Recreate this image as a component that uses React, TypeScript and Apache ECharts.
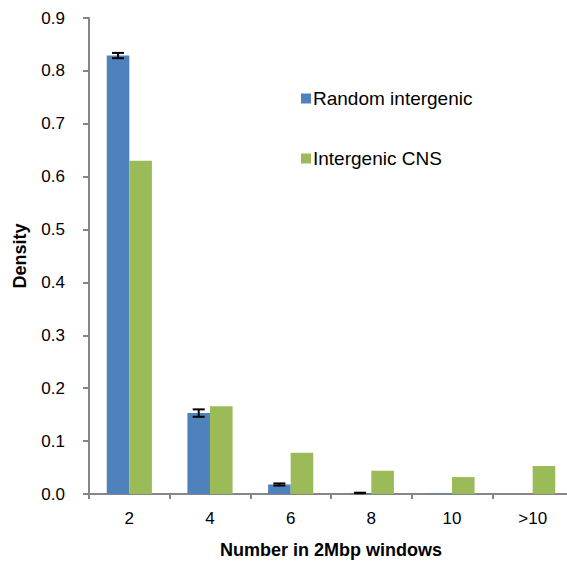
import React, { useEffect, useRef } from "react";
import * as echarts from "echarts";

const categories = ["2", "4", "6", "8", "10", ">10"];
const randomIntergenic = [0.829, 0.153, 0.018, 0.002, 0.001, 0];
const randomErrors = [0.005, 0.007, 0.002, 0.0005, 0, 0];
const intergenicCNS = [0.63, 0.166, 0.078, 0.044, 0.032, 0.053];
const yTicks = [0, 0.1, 0.2, 0.3, 0.4, 0.5, 0.6, 0.7, 0.8, 0.9];

const FONT = "'Liberation Sans', Arial, sans-serif";

export default function App() {
  const ref = useRef<HTMLDivElement>(null);
  useEffect(() => {
    if (!ref.current) return;
    const chart = echarts.init(ref.current, null, { renderer: "svg" });
    const errData = categories.map((_, i) => [i, randomIntergenic[i], randomErrors[i]]);
    chart.setOption({
      animation: false,
      textStyle: { fontFamily: FONT },
      grid: {
        left: 89,
        width: 484,
        top: 18,
        bottom: 72,
        containLabel: false,
        outerBoundsMode: "none",
      },
      legend: {
        orient: "vertical",
        left: 301,
        top: 89,
        padding: 0,
        itemWidth: 10,
        itemHeight: 10,
        itemGap: 41,
        icon: "rect",
        textStyle: { fontFamily: FONT, fontSize: 19, color: "#000", padding: [0, 0, 0, -3] },
        data: ["Random intergenic", "Intergenic CNS"],
      },
      xAxis: {
        type: "category",
        data: categories,
        name: "Number in 2Mbp windows",
        nameLocation: "middle",
        nameGap: 47,
        nameTextStyle: { fontFamily: FONT, fontSize: 18, fontWeight: "bold", color: "#000" },
        axisLine: { lineStyle: { color: "#868686", width: 2 } },
        axisTick: { show: true, length: 5, lineStyle: { color: "#868686", width: 2 } },
        axisLabel: { color: "#000", fontSize: 17, margin: 16, fontFamily: FONT },
      },
      yAxis: {
        type: "value",
        min: 0,
        max: 0.9,
        interval: 0.1,
        name: "Density",
        nameLocation: "middle",
        nameGap: 60,
        nameTextStyle: { fontFamily: FONT, fontSize: 18, fontWeight: "bold", color: "#000" },
        axisLine: { show: true, lineStyle: { color: "#868686", width: 2 } },
        axisTick: { show: true, length: 6, lineStyle: { color: "#868686", width: 2 } },
        axisLabel: {
          color: "#000",
          fontSize: 17,
          margin: 24,
          fontFamily: FONT,
          formatter: (v: number) => {
            const t = yTicks.find((x) => Math.abs(x - v) < 1e-9);
            return (t !== undefined ? t : v).toFixed(1);
          },
        },
        splitLine: { show: false },
      },
      series: [
        {
          name: "Random intergenic",
          type: "bar",
          data: randomIntergenic,
          barGap: "0%",
          barCategoryGap: "44%",
          itemStyle: { color: "#4F81BD" },
        },
        {
          name: "Intergenic CNS",
          type: "bar",
          data: intergenicCNS,
          barGap: "0%",
          barCategoryGap: "44%",
          itemStyle: { color: "#9BBB59" },
        },
        {
          type: "custom",
          name: "err",
          data: errData,
          encode: { x: 0, y: 1 },
          z: 10,
          renderItem: (params: any, api: any) => {
            const i = api.value(0);
            const v = api.value(1);
            const e = api.value(2);
            if (v === 0 || e === 0) return null;
            const band = api.size([1, 0])[0];
            const cx = api.coord([i, v])[0] - band * 0.14;
            const yHi = api.coord([i, v + e])[1];
            const yLo = api.coord([i, Math.max(0, v - e)])[1];
            const hw = 6;
            const style = { stroke: "#000", lineWidth: 2 };
            return {
              type: "group",
              children: [
                { type: "line", shape: { x1: cx, y1: yHi, x2: cx, y2: yLo }, style },
                { type: "line", shape: { x1: cx - hw, y1: yHi, x2: cx + hw, y2: yHi }, style },
                { type: "line", shape: { x1: cx - hw, y1: yLo, x2: cx + hw, y2: yLo }, style },
              ],
            };
          },
        },
      ],
    });
    return () => chart.dispose();
  }, []);
  return (
    <div
      ref={ref}
      style={{ position: "absolute", left: 0, top: 0, width: 567, height: 566, background: "#fff" }}
    />
  );
}
